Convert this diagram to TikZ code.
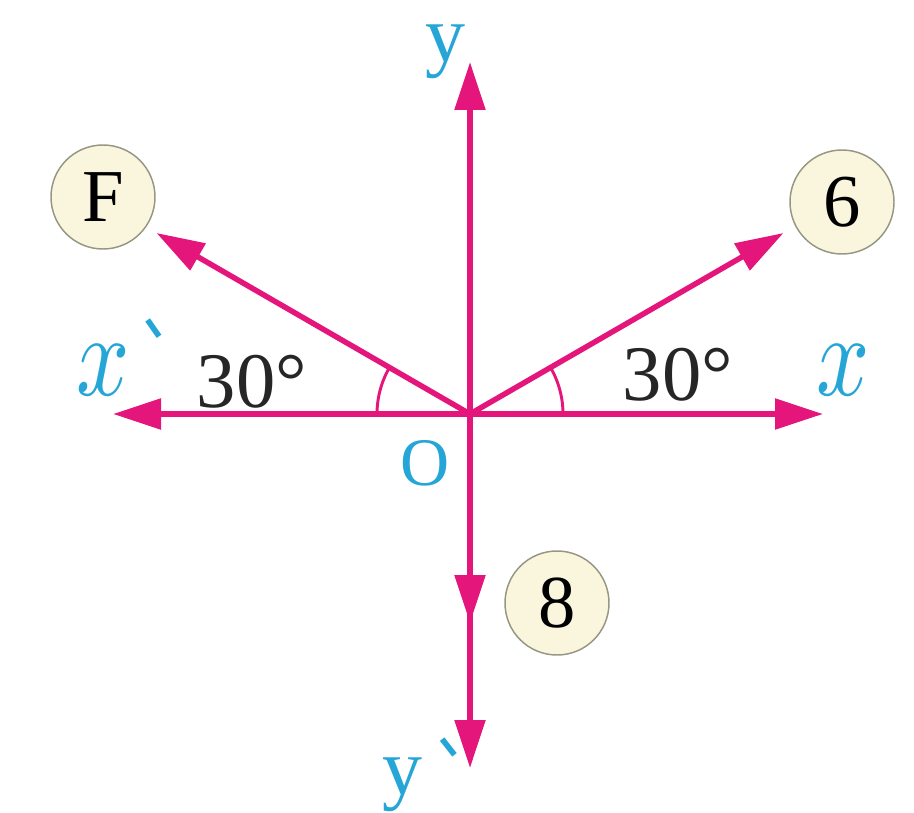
\documentclass[tikz,border=0pt]{standalone}
\usepackage{fontspec}
\setmainfont{Liberation Serif}
\usetikzlibrary{arrows.meta}
\definecolor{axpink}{RGB}{228,22,123}
\definecolor{lblcyan}{RGB}{38,165,215}
\definecolor{cream}{RGB}{250,246,222}
\definecolor{rimgray}{RGB}{150,150,130}
\tikzset{
  axis/.style={draw=axpink, line width=4.1pt, -{Triangle[length=36pt,width=22.5pt]}},
  anglearc/.style={draw=axpink, line width=2.2pt},
  bubble/.style={circle, draw=rimgray, line width=1.1pt, fill=cream, minimum size=78pt, inner sep=0pt, font=\fontsize{56}{56}\selectfont},
  deg/.style={anchor=base, font=\fontsize{59}{60}\selectfont, text=black!85},
  axlbl/.style={text=lblcyan, inner sep=0pt},
  tickmark/.style={text=lblcyan, inner sep=0pt, font=\fontsize{58}{58}\selectfont}
}
\begin{document}
\begin{tikzpicture}[x=0.75pt, y=-0.75pt]
\useasboundingbox (0,0) rectangle (914,813);
% origin and end points
\coordinate (O) at (470,414);
\coordinate (xr) at (823,414);
\coordinate (xl) at (113,414);
\coordinate (yt) at (470,62);
\coordinate (yb) at (470,768);
\coordinate (ym) at (470,623);
\coordinate (tipF) at (156.5,233);
\coordinate (tip6) at (783.5,233);
% axes and forces
\draw[axis] (O) -- (xr);
\draw[axis] (O) -- (xl);
\draw[axis] (O) -- (yt);
\draw[axis] (O) -- (yb);
\draw[axis] (O) -- (ym);
\draw[axis] (O) -- (tipF);
\draw[axis] (O) -- (tip6);
% angle arcs
\draw[anglearc] ([shift={(93,0)}]O) arc[start angle=0, end angle=-30, radius=93];
\draw[anglearc] ([shift={(-93,0)}]O) arc[start angle=180, end angle=210, radius=93];
% angle labels
\node[deg] (a1) at (252,407) {30°};
\node[deg] (a2) at (678,400) {30°};
% force bubbles
\node[bubble] (F) at (103,197) {F};
\node[bubble] (six) at (842,202) {6};
\node[bubble] (eight) at (557,603) {8};
% axis labels
\node[axlbl] (lx) at (843,370) {\scalebox{7}[8.8]{$x$}};
\node[axlbl] (lxp) at (103,370) {\scalebox{7}[8.8]{$x$}};
\node[tickmark] (gx) at (148,333) {\rotatebox[origin=c]{-55}{-}};
\node[axlbl, anchor=base, font=\fontsize{60}{60}\selectfont] (ly) at (445,62) {y};
\node[axlbl, anchor=base, font=\fontsize{60}{60}\selectfont] (lyp) at (402,794) {y};
\node[tickmark] (gy) at (443,752) {\rotatebox[origin=c]{-52}{-}};
\node[axlbl, anchor=base, font=\fontsize{51}{51}\selectfont] (lO) at (425,485) {O};
\end{tikzpicture}
\end{document}
